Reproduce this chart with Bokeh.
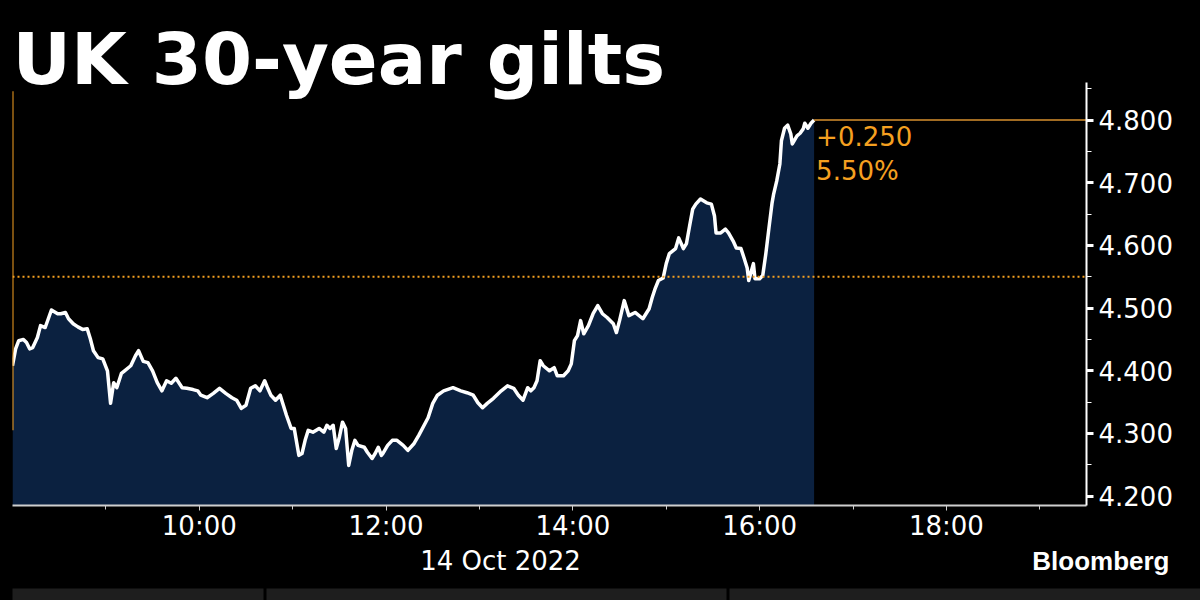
import pandas as pd
from bokeh.plotting import figure
from bokeh.layouts import column
from bokeh.models import (Range1d, FixedTicker, DatetimeTickFormatter, NumeralTickFormatter,
                          Label, Span, Title, ColumnDataSource)
from bokeh.embed import file_html
from bokeh.resources import INLINE

# ---------------- data ----------------
date = "2022-10-14"
times = [
    "08:00", "08:02", "08:04", "08:07", "08:09", "08:11", "08:13", "08:16", "08:18", "08:21",
    "08:23", "08:25", "08:29", "08:31", "08:34", "08:36", "08:39", "08:42", "08:45", "08:48",
    "08:50", "08:52", "08:55", "08:58", "09:01", "09:03", "09:05", "09:07", "09:10", "09:12",
    "09:16", "09:19", "09:21", "09:24", "09:27", "09:30", "09:33", "09:36", "09:39", "09:42",
    "09:45", "09:49", "09:52", "09:56", "09:59", "10:01", "10:05", "10:09", "10:13", "10:17",
    "10:21", "10:24", "10:27", "10:30", "10:33", "10:36", "10:39", "10:42", "10:44", "10:46",
    "10:49", "10:52", "10:54", "10:56", "10:59", "11:01", "11:04", "11:06", "11:08", "11:10",
    "11:13", "11:17", "11:20", "11:22", "11:24", "11:26", "11:28", "11:30", "11:32", "11:34",
    "11:36", "11:38", "11:40", "11:42", "11:46", "11:48", "11:51", "11:53", "11:55", "11:57",
    "11:58", "12:01", "12:04", "12:07", "12:11", "12:14", "12:18", "12:21", "12:27", "12:30",
    "12:33", "12:37", "12:43", "12:48", "12:52", "12:56", "12:59", "13:02", "13:05", "13:09",
    "13:14", "13:18", "13:22", "13:25", "13:28", "13:31", "13:33", "13:35", "13:37", "13:39",
    "13:41", "13:45", "13:48", "13:50", "13:54", "13:57", "13:59", "14:01", "14:03", "14:05",
    "14:07", "14:10", "14:13", "14:16", "14:19", "14:22", "14:26", "14:28", "14:30", "14:33",
    "14:36", "14:40", "14:45", "14:49", "14:51", "14:53", "14:55", "14:58", "15:00", "15:02",
    "15:04", "15:06", "15:08", "15:11", "15:13", "15:15", "15:17", "15:19", "15:22", "15:26",
    "15:29", "15:31", "15:32", "15:35", "15:38", "15:40", "15:43", "15:45", "15:48", "15:50",
    "15:52", "15:53", "15:56", "15:57", "16:00", "16:02", "16:04", "16:06", "16:08", "16:09",
    "16:11", "16:13", "16:14", "16:16", "16:18", "16:20", "16:21", "16:24", "16:26", "16:28",
    "16:29", "16:31", "16:33", "16:35",
]
yields = [
    4.408, 4.435, 4.448, 4.450, 4.445, 4.435, 4.437, 4.453, 4.472, 4.469,
    4.483, 4.497, 4.491, 4.491, 4.493, 4.483, 4.475, 4.470, 4.466, 4.467,
    4.451, 4.432, 4.421, 4.419, 4.400, 4.348, 4.381, 4.373, 4.396, 4.400,
    4.408, 4.424, 4.432, 4.415, 4.413, 4.400, 4.381, 4.368, 4.384, 4.380,
    4.388, 4.373, 4.372, 4.370, 4.368, 4.361, 4.357, 4.364, 4.372, 4.364,
    4.357, 4.353, 4.340, 4.345, 4.372, 4.376, 4.368, 4.384, 4.372, 4.361,
    4.353, 4.361, 4.345, 4.329, 4.308, 4.308, 4.265, 4.268, 4.289, 4.305,
    4.302, 4.308, 4.302, 4.313, 4.308, 4.313, 4.276, 4.294, 4.318, 4.308,
    4.249, 4.273, 4.289, 4.281, 4.278, 4.270, 4.260, 4.268, 4.278, 4.265,
    4.268, 4.281, 4.289, 4.289, 4.281, 4.273, 4.284, 4.297, 4.325, 4.348,
    4.361, 4.368, 4.373, 4.368, 4.365, 4.361, 4.349, 4.341, 4.348, 4.356,
    4.368, 4.376, 4.372, 4.361, 4.353, 4.373, 4.368, 4.373, 4.384, 4.416,
    4.408, 4.400, 4.405, 4.392, 4.392, 4.400, 4.411, 4.448, 4.456, 4.480,
    4.459, 4.472, 4.491, 4.504, 4.491, 4.485, 4.475, 4.461, 4.480, 4.512,
    4.488, 4.493, 4.483, 4.499, 4.517, 4.532, 4.544, 4.548, 4.571, 4.587,
    4.591, 4.595, 4.612, 4.595, 4.603, 4.631, 4.658, 4.666, 4.674, 4.668,
    4.666, 4.647, 4.620, 4.620, 4.626, 4.620, 4.607, 4.596, 4.595, 4.580,
    4.564, 4.544, 4.571, 4.547, 4.547, 4.552, 4.587, 4.628, 4.668, 4.682,
    4.703, 4.730, 4.767, 4.787, 4.792, 4.778, 4.762, 4.775, 4.779, 4.786,
    4.795, 4.787, 4.795, 4.800,
]
prev_close = 4.55
change_text = "+0.250"
pct_text = "5.50%"
x_start, x_end = "08:00", "19:30"
y_start, y_end = 4.185, 4.86
y_ticks = [4.2, 4.3, 4.4, 4.5, 4.6, 4.7, 4.8]
y_minor_ticks = [4.25, 4.35, 4.45, 4.55, 4.65, 4.75, 4.85]
x_ticks = ["10:00", "12:00", "14:00", "16:00", "18:00"]
x_minor_ticks = ["09:00", "11:00", "13:00", "15:00", "17:00", "19:00"]
start_marker = (4.846, 4.305)
title_text = "UK 30-year gilts"
date_text = "14 Oct 2022"
source_text = "Bloomberg"

ORANGE = "#f5a020"
FILL = "#0b2140"

# footer layout (pixels inside the 1200x56 footer strip)
tab_left = [12, 266, 729]
tab_right = [263, 726, 1200]


def ts(hm):
    return pd.Timestamp(f"{date} {hm}")


def ms(hm):
    return ts(hm).value / 1e6


src = ColumnDataSource(dict(t=[ts(h) for h in times], y=yields))

title = Title(text=title_text, text_color="white", text_font="DejaVu Sans",
              text_font_style="bold", text_font_size="72px", align="left",
              offset=0, standoff=-37)

p = figure(width=1200, height=544, x_axis_type="datetime", y_axis_location="right",
           output_backend="svg", toolbar_location=None, title=title,
           x_range=Range1d(ms(x_start), ms(x_end)), y_range=Range1d(y_start, y_end),
           background_fill_color="black", border_fill_color="black",
           min_border_left=12, min_border_right=114, min_border_top=82, min_border_bottom=39)
p.frame_align = False
p.outline_line_color = None
p.xgrid.visible = False
p.ygrid.visible = False

# area + line
p.varea(x="t", y1=y_start, y2="y", source=src, fill_color=FILL)
p.line(x="t", y="y", source=src, line_color="white", line_width=3.5, line_join="round")

# previous close dotted line
p.add_layout(Span(location=prev_close, dimension="width", line_color=ORANGE,
                  line_dash="2 3", line_width=2))
# last value line to axis
p.segment(x0=[ts(times[-1])], y0=[yields[-1]], x1=[ts(x_end)], y1=[yields[-1]],
          line_color="#d8912e", line_width=1.5)
# start marker
p.segment(x0=[ts(x_start)], y0=[start_marker[0]], x1=[ts(x_start)], y1=[start_marker[1]],
          line_color=ORANGE, line_width=2)

# axes
xa = p.xaxis[0]
xa.ticker = FixedTicker(ticks=[ms(h) for h in x_ticks], minor_ticks=[ms(h) for h in x_minor_ticks])
xa.formatter = DatetimeTickFormatter(hours="%H:%M", hourmin="%H:%M", minutes="%H:%M", days="%H:%M")
xa.axis_line_color = "#cfcfcf"
xa.axis_line_width = 2
xa.major_tick_line_color = "#cfcfcf"
xa.minor_tick_line_color = "#cfcfcf"
xa.major_tick_out = 5
xa.major_tick_in = 0
xa.minor_tick_out = 4
xa.minor_tick_in = 0
xa.major_label_text_color = "white"
xa.major_label_text_font = "DejaVu Sans"
xa.major_label_text_font_size = "26px"
xa.major_label_standoff = 0

ya = p.yaxis[0]
ya.ticker = FixedTicker(ticks=y_ticks, minor_ticks=y_minor_ticks)
ya.formatter = NumeralTickFormatter(format="0.000")
ya.axis_line_color = "white"
ya.axis_line_width = 2
ya.major_tick_line_color = "white"
ya.major_tick_line_width = 3
ya.minor_tick_line_color = "white"
ya.major_tick_out = 7
ya.major_tick_in = 0
ya.minor_tick_out = 5
ya.minor_tick_in = 0
ya.major_label_text_color = "white"
ya.major_label_text_font = "DejaVu Sans"
ya.major_label_text_font_size = "26px"
ya.major_label_standoff = 5

# in-frame labels
p.add_layout(Label(x=ts(times[-1]), y=370, y_units="screen", x_offset=2, text=change_text,
                   text_color=ORANGE, text_font="DejaVu Sans", text_font_size="26px",
                   text_baseline="alphabetic"))
p.add_layout(Label(x=ts(times[-1]), y=335, y_units="screen", x_offset=2, text=pct_text,
                   text_color=ORANGE, text_font="DejaVu Sans", text_font_size="26px",
                   text_baseline="alphabetic"))

# footer strip: date, source and tab bar
f = figure(width=1200, height=56, output_backend="svg", toolbar_location=None,
           x_range=Range1d(0, 1200), y_range=Range1d(0, 56),
           x_axis_location=None, y_axis_location=None,
           background_fill_color="black", border_fill_color="black",
           min_border_left=0, min_border_right=0, min_border_top=0, min_border_bottom=0)
f.frame_align = False
f.outline_line_color = None
f.xgrid.visible = False
f.ygrid.visible = False
f.quad(left=tab_left, right=tab_right, bottom=[0] * 3, top=[12] * 3,
       fill_color="#1e1e1e", line_color=None)
f.add_layout(Label(x=500, y=40, text=date_text, text_color="white", text_font="DejaVu Sans",
                   text_font_size="26px", text_align="center", text_baseline="alphabetic"))
f.add_layout(Label(x=1169, y=40, text=source_text, text_color="white",
                   text_font="Liberation Sans", text_font_style="bold", text_font_size="26px",
                   text_align="right", text_baseline="alphabetic"))

layout = column(p, f, spacing=0, styles={"background-color": "black"})
open("out.html", "w").write(file_html(layout, INLINE))
